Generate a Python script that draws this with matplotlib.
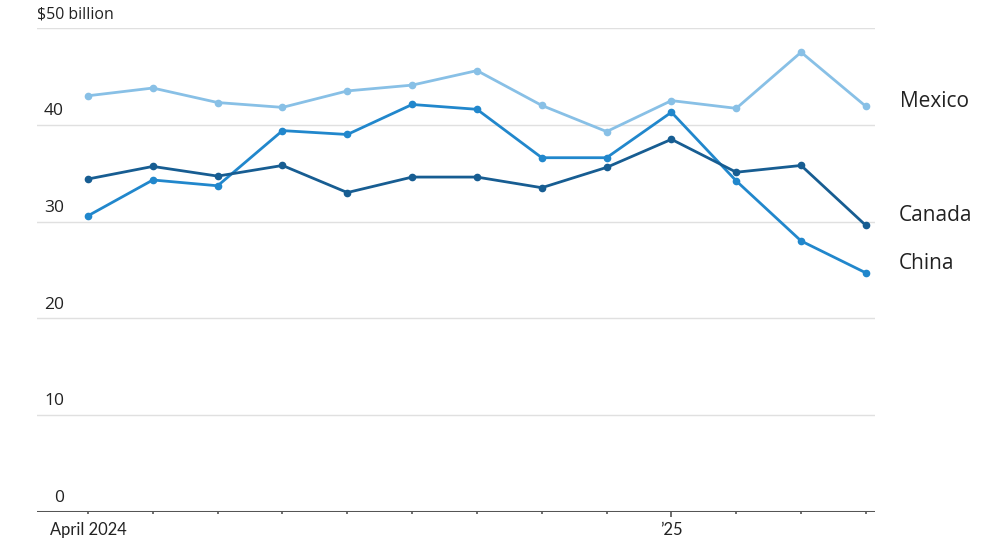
import matplotlib
matplotlib.use('Agg')
import matplotlib.pyplot as plt
import numpy as np

months = ['Apr', 'May', 'Jun', 'Jul', 'Aug', 'Sep', 'Oct', 'Nov', 'Dec',
          'Jan', 'Feb', 'Mar', 'Apr']
mexico = [43.0, 43.8, 42.3, 41.8, 43.5, 44.1, 45.6, 42.0, 39.3, 42.5, 41.7, 47.5, 41.9]
canada = [34.4, 35.7, 34.7, 35.8, 33.0, 34.6, 34.6, 33.5, 35.6, 38.5, 35.1, 35.8, 29.6]
china = [30.6, 34.3, 33.7, 39.4, 39.0, 42.1, 41.6, 36.6, 36.6, 41.3, 34.2, 28.0, 24.7]
y_ticks = [0, 10, 20, 30, 40, 50]
x_labels = {0: 'April 2024', 9: '\u201925'}

COL_MEX = '#88c0e6'
COL_CAN = '#175d92'
COL_CHN = '#2187cc'

fig = plt.figure(figsize=(10, 5.45), dpi=100)
ax = fig.add_axes([0.037, 0.0606, 0.838, 0.888])
x = np.arange(len(months))

ax.set_xlim(-0.787, 12.14)
ax.set_ylim(0, 50)

for v in y_ticks[1:]:
    ax.axhline(v, color='#e0e0e0', lw=1.0, zorder=1)
ax.axhline(0, color='#555555', lw=2.2, zorder=3)

for series, col in ((mexico, COL_MEX), (china, COL_CHN), (canada, COL_CAN)):
    ax.plot(x, series, color=col, lw=2.0, marker='o', markersize=4.5, zorder=4)

# y labels sit above the gridlines
for v in y_ticks:
    if v == 50:
        ax.text(-0.79, v + 0.6, '$50 billion', fontsize=11.4, family='Open Sans',
                color='#222222', ha='left', va='bottom')
    else:
        ax.text(-0.37, v + 0.6, str(v), fontsize=12.5, family='Open Sans',
                color='#222222', ha='right', va='bottom')

# month ticks (tiny, the '25 one a bit longer)
for i in x:
    ln = 0.55 if i == 9 else 0.25
    ax.plot([i, i], [0, -ln], color='#555555', lw=1.2, clip_on=False,
            solid_capstyle='butt', zorder=3)
for i, lab in x_labels.items():
    ax.text(i, -1.0, lab, fontsize=11.9, family='Lato', color='#222222',
            ha='center', va='top')

# series labels at the right end
ax.text(12.52, mexico[-1] + 0.5, 'Mexico', fontsize=15, family='Open Sans',
        color='#222222', va='center', ha='left', clip_on=False)
ax.text(12.5, 30.6, 'Canada', fontsize=15, family='Open Sans',
        color='#222222', va='center', ha='left', clip_on=False)
ax.text(12.5, 25.7, 'China', fontsize=15, family='Open Sans',
        color='#222222', va='center', ha='left', clip_on=False)

ax.axis('off')
fig.savefig('out.png', dpi=100)
